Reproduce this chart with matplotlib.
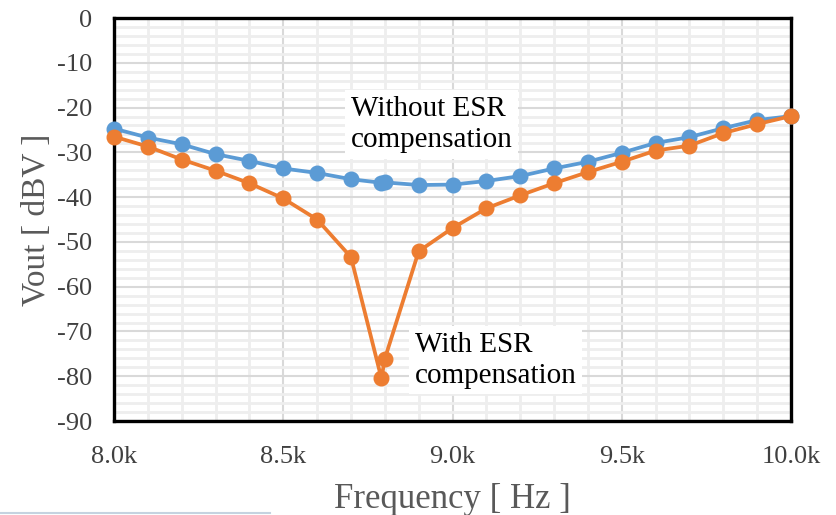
import matplotlib
matplotlib.use("Agg")
import matplotlib.pyplot as plt
from matplotlib.ticker import MultipleLocator, FuncFormatter
from matplotlib.lines import Line2D

freq_without = [8.0, 8.1, 8.2, 8.3, 8.4, 8.5, 8.6, 8.7, 8.79, 8.8, 8.9, 9.0,
                9.1, 9.2, 9.3, 9.4, 9.5, 9.6, 9.7, 9.8, 9.9, 10.0]
vout_without = [-24.7, -26.7, -28.2, -30.4, -31.9, -33.6, -34.6, -36.0, -36.8, -36.7,
                -37.3, -37.2, -36.4, -35.3, -33.6, -32.1, -30.1, -27.9, -26.6, -24.6,
                -22.8, -21.9]
freq_with = [8.0, 8.1, 8.2, 8.3, 8.4, 8.5, 8.6, 8.7, 8.79, 8.8, 8.9, 9.0,
             9.1, 9.2, 9.3, 9.4, 9.5, 9.6, 9.7, 9.8, 9.9, 10.0]
vout_with = [-26.5, -28.7, -31.6, -34.1, -36.9, -40.3, -45.0, -53.4, -80.5, -76.1,
             -52.1, -46.9, -42.5, -39.6, -36.9, -34.4, -32.1, -29.6, -28.5, -25.7,
             -23.7, -21.9]
x_ticks = [8.0, 8.5, 9.0, 9.5, 10.0]
y_ticks = [0, -10, -20, -30, -40, -50, -60, -70, -80, -90]

serif = ["Liberation Serif", "DejaVu Serif"]
plt.rcParams["font.family"] = serif
plt.rcParams["axes.unicode_minus"] = False

fig = plt.figure(figsize=(8.36, 5.15), dpi=100)
ax = fig.add_axes([0.1364, 0.1825, 0.8098, 0.7825])

blue = "#5B9BD5"
orange = "#ED7D31"

ax.plot(freq_without, vout_without, color=blue, lw=2.7, marker="o", ms=10.5,
        zorder=4, clip_on=False)
ax.plot(freq_with, vout_with, color=orange, lw=2.7, marker="o", ms=10.5,
        zorder=5, clip_on=False)

ax.set_xlim(8.0, 10.0)
ax.set_ylim(-90, 0)
ax.xaxis.set_minor_locator(MultipleLocator(0.1))
ax.yaxis.set_minor_locator(MultipleLocator(2))
ax.set_xticks(x_ticks)
ax.set_yticks(y_ticks)
ax.xaxis.set_major_formatter(FuncFormatter(lambda v, p: f"{v:.1f}k"))

ax.grid(which="major", color="#d9d9d9", lw=1.5, zorder=0)
ax.grid(which="minor", color="#eeeeee", lw=2.0, zorder=0)
ax.set_axisbelow(True)

for s in ax.spines.values():
    s.set_color("black")
    s.set_linewidth(2.4)

ax.tick_params(which="both", length=0)
ax.tick_params(axis="x", labelsize=19, labelcolor="#404040", pad=18)
ax.tick_params(axis="y", labelsize=19, labelcolor="#404040", pad=16)

ax.set_xlabel("Frequency [ Hz ]", fontsize=25, color="#595959", labelpad=11)
ax.set_ylabel("Vout [ dBV ]", fontsize=24, color="#595959", labelpad=3)

bbox = dict(facecolor="white", edgecolor="none", pad=4)
ax.text(8.700, -28.8, "Without ESR\ncompensation", fontsize=21, color="black",
        ha="left", va="baseline", multialignment="left", linespacing=1.25,
        bbox=bbox, zorder=6)
ax.text(8.889, -81.5, "With ESR\ncompensation", fontsize=21, color="black",
        ha="left", va="baseline", multialignment="left", linespacing=1.25,
        bbox=bbox, zorder=6)

fig.add_artist(Line2D([0.0, 0.323], [0.004, 0.004], color="#c5d3e0", lw=1.5))

fig.savefig("out.png", dpi=100)
